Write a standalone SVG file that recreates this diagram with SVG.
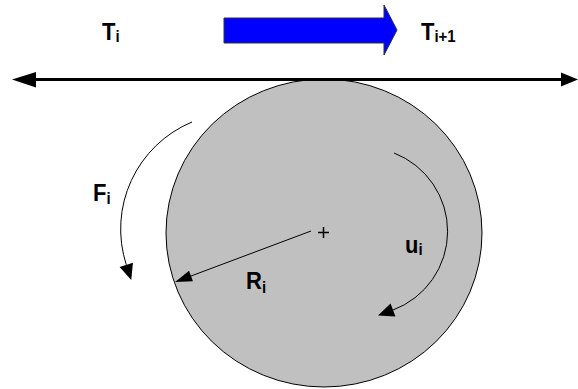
<svg xmlns="http://www.w3.org/2000/svg" width="578" height="389" viewBox="0 0 578 389">
  <style>
    .lbl { font-family: "Liberation Sans", Arial, sans-serif; font-weight: bold; font-size: 22px; fill: #000; }
    .sub { font-size: 15px; }
    .thin { fill: none; stroke: #000; stroke-width: 1; }
  </style>
  <defs>
    <marker id="ah" markerUnits="userSpaceOnUse" markerWidth="17" markerHeight="14" refX="0" refY="7" orient="auto" overflow="visible">
      <path d="M0,0 L16,7 L0,14 Z" fill="#000"/>
    </marker>
    <marker id="ahR" markerUnits="userSpaceOnUse" markerWidth="17" markerHeight="12" refX="0" refY="5.5" orient="auto" overflow="visible">
      <path d="M0,0 L17,5.5 L0,11 Z" fill="#000"/>
    </marker>
  </defs>

  <rect width="578" height="389" fill="#fff"/>

  <g id="wheel">
    <ellipse cx="324" cy="233" rx="158" ry="154" fill="#C0C0C0" stroke="#000" stroke-width="1"/>
    <path d="M318,232.5 H329 M323.5,227 V238" stroke="#000" stroke-width="1.5"/>
  </g>

  <g id="direction-arrow">
    <polygon points="224,18 384,18 384,5 397,30 384,55 384,43 224,43" fill="#0000FF" stroke="#333" stroke-width="1"/>
  </g>

  <g id="connectors">
    <g id="axis">
      <line x1="35" y1="79.5" x2="562" y2="79.5" stroke="#000" stroke-width="3"/>
      <polygon points="12,79.5 36,72 36,87.5" fill="#000"/>
      <polygon points="578,79.5 561,72.5 561,86.5" fill="#000"/>
    </g>
    <path id="F-arc" class="thin" d="M192,122 A116,116 0 0 0 126.3,264.8" marker-end="url(#ah)"/>
    <path id="u-arc" class="thin" d="M394,153 A84,84 0 0 1 393,310" marker-end="url(#ah)"/>
    <path id="R-line" class="thin" d="M311,231 L191,276" marker-end="url(#ahR)"/>
  </g>

  <g id="label-Ti" transform="translate(102,39.5) scale(1,1.12)">
    <text class="lbl" x="0" y="0">T<tspan class="sub" dy="2.5">i</tspan></text>
  </g>
  <g id="label-Ti1" transform="translate(421,39.5) scale(1,1.12)">
    <text class="lbl" x="0" y="0">T<tspan class="sub" dy="2.5">i+1</tspan></text>
  </g>
  <g id="label-Fi" transform="translate(93,201) scale(1,1.08)">
    <text class="lbl" x="0" y="0">F<tspan class="sub" dy="2.5">i</tspan></text>
  </g>
  <g id="label-Ri" transform="translate(246,289) scale(1,1.08)">
    <text class="lbl" x="0" y="0">R<tspan class="sub" dy="3.5">i</tspan></text>
  </g>
  <g id="label-ui" transform="translate(405,253) scale(1,1.12)">
    <text class="lbl" x="0" y="0">u<tspan class="sub" dy="2">i</tspan></text>
  </g>
</svg>
